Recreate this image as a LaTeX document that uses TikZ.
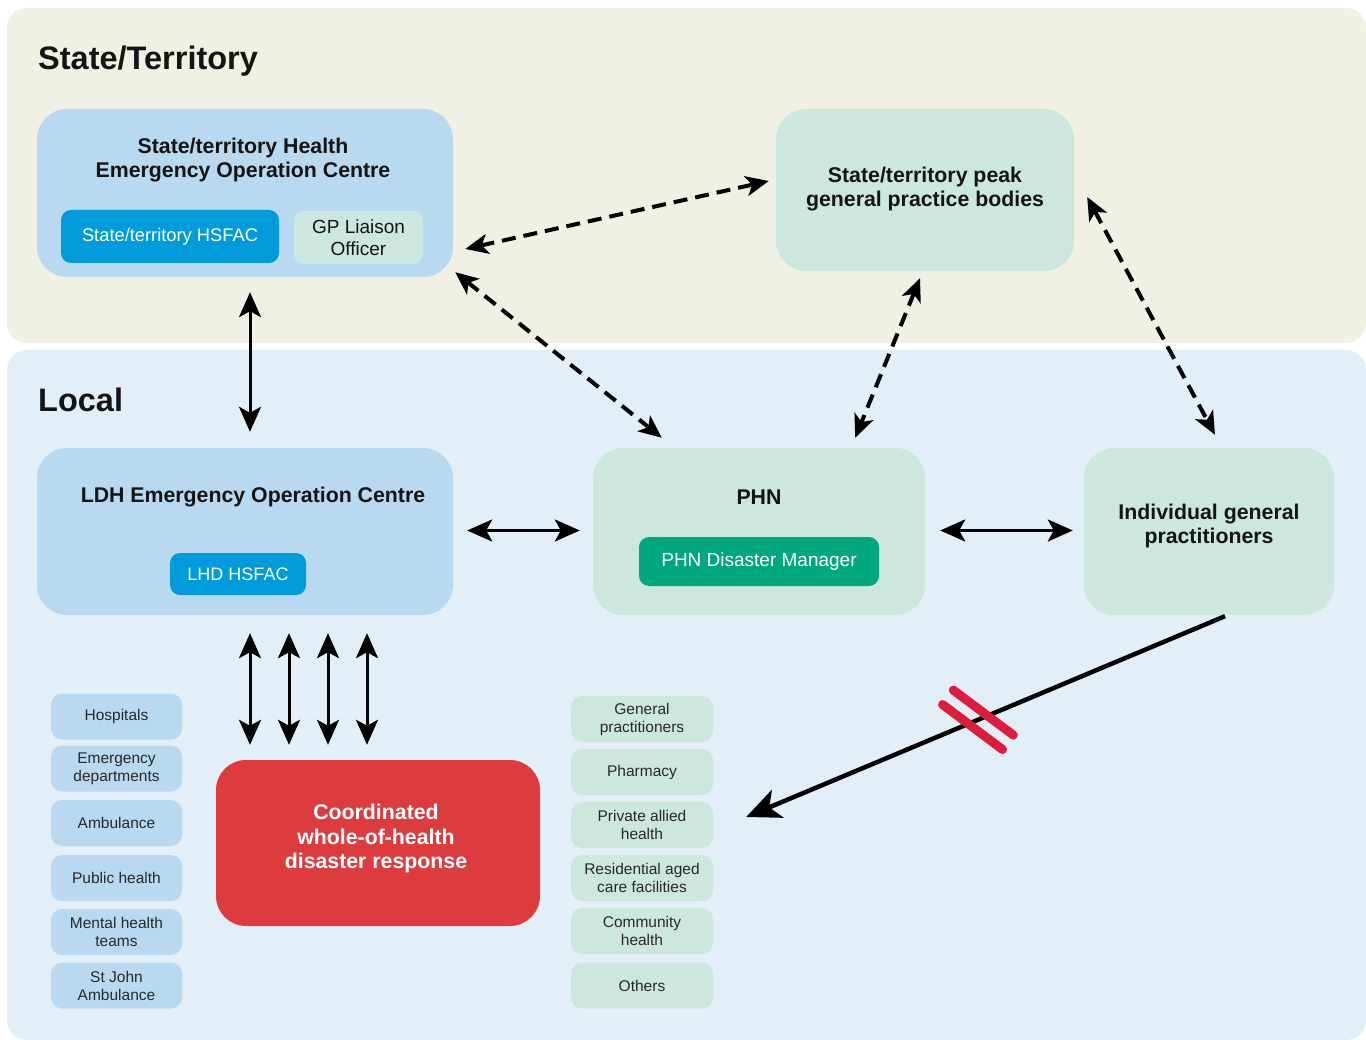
\documentclass[tikz,border=0pt]{standalone}
\usepackage{fontspec}
\setmainfont{Liberation Sans}
\usetikzlibrary{arrows.meta,calc}
\definecolor{bandtop}{RGB}{240,240,228}
\definecolor{bandlow}{RGB}{226,239,247}
\definecolor{lblue}{RGB}{185,217,240}
\definecolor{mint}{RGB}{204,232,222}
\definecolor{hsfac}{RGB}{0,155,219}
\definecolor{phnd}{RGB}{0,168,126}
\definecolor{redbox}{RGB}{221,60,63}
\definecolor{cutred}{RGB}{220,30,60}
\definecolor{txt}{RGB}{20,20,20}
\definecolor{smalltxt}{RGB}{40,40,40}
\begin{document}
\begin{tikzpicture}[x=1pt,y=-1pt,
  bigbox/.style={rounded corners=30pt, inner sep=0pt, draw=none},
  subbox/.style={rounded corners=10pt, inner sep=0pt, draw=none, align=center},
  smallbox/.style={rounded corners=11pt, inner sep=0pt, draw=none, align=center,
    minimum height=46pt, text=smalltxt, font=\fontsize{15.5}{18}\selectfont},
  leftbox/.style={smallbox, fill=lblue, minimum width=131pt},
  rightbox/.style={smallbox, fill=mint, minimum width=142pt},
  title/.style={align=center, text=txt, font=\fontsize{21.3}{24.5}\selectfont\bfseries, inner sep=0pt},
  bandtitle/.style={anchor=base west, text=txt, font=\fontsize{32.5}{36}\selectfont\bfseries, inner sep=0pt},
  solidarrow/.style={{Stealth[length=25pt,width=22pt,inset=6pt]}-{Stealth[length=25pt,width=22pt,inset=6pt]}, line width=3pt, black},
  dasharrow/.style={{Stealth[length=23pt,width=20pt,inset=6pt]}-{Stealth[length=23pt,width=20pt,inset=6pt]}, line width=4pt, black, dash pattern=on 14pt off 8pt},
]
\useasboundingbox (0,0) rectangle (1366,1040);
% bands
\fill[bandtop, rounded corners=20pt] (7,8) rectangle (1366,343);
\fill[bandlow, rounded corners=20pt] (7,350) rectangle (1366,1040);
\node[bandtitle] (tstate) at (38,70) {State/Territory};
\node[bandtitle] (tlocal) at (38,412) {Local};

% state/territory HEOC
\node[bigbox, fill=lblue, minimum width=416pt, minimum height=168pt] (heoc) at (245,193) {};
\node[title] (heoct) at (243,160) {State/territory Health\\Emergency Operation Centre};
\node[subbox, fill=hsfac, minimum width=218pt, minimum height=53pt, text=white,
  font=\fontsize{18.3}{20}\selectfont] (shsfac) at (170,236.5) {State/territory HSFAC};
\node[subbox, fill=mint, minimum width=129pt, minimum height=53pt, text=txt,
  font=\fontsize{19}{21.5}\selectfont] (gplo) at (358.5,237.5) {GP Liaison\\Officer};

% peak bodies
\node[bigbox, fill=mint, minimum width=298pt, minimum height=162pt] (peak) at (925,190) {};
\node[title] (peakt) at (925,189) {State/territory peak\\general practice bodies};

% LDH EOC
\node[bigbox, fill=lblue, minimum width=416pt, minimum height=167pt] (ldh) at (245,531.5) {};
\node[title] (ldht) at (253,497) {LDH Emergency Operation Centre};
\node[subbox, fill=hsfac, minimum width=136pt, minimum height=42pt, text=white,
  font=\fontsize{18}{20}\selectfont] (lhsfac) at (238,574) {LHD HSFAC};

% PHN
\node[bigbox, fill=mint, minimum width=332pt, minimum height=167pt] (phn) at (759,531.5) {};
\node[title] (phnt) at (759,497) {PHN};
\node[subbox, fill=phnd, minimum width=240pt, minimum height=49pt, text=white,
  font=\fontsize{19}{20}\selectfont] (phndm) at (759,561.5) {PHN Disaster Manager};

% Individual GPs
\node[bigbox, fill=mint, minimum width=250pt, minimum height=167pt] (igp) at (1209,531.5) {};
\node[title] (igpt) at (1209,526) {Individual general\\practitioners};

% red box
\node[bigbox, fill=redbox, minimum width=324pt, minimum height=166pt] (red) at (378,843) {};
\node[title, text=white] (redt) at (376,838.5) {Coordinated\\whole-of-health\\disaster response};

% left boxes
\node[leftbox] (hosp) at (116.5,716.5) {Hospitals};
\node[leftbox] (ed) at (116.5,768.5) {Emergency\\departments};
\node[leftbox] (amb) at (116.5,823) {Ambulance};
\node[leftbox] (pubh) at (116.5,878) {Public health};
\node[leftbox] (mht) at (116.5,932) {Mental health\\teams};
\node[leftbox] (sja) at (116.5,985.5) {St John\\Ambulance};

% right boxes
\node[rightbox] (gps) at (642,719) {General\\practitioners};
\node[rightbox] (pharm) at (642,772) {Pharmacy};
\node[rightbox] (pah) at (642,825) {Private allied\\health};
\node[rightbox] (racf) at (642,878) {Residential aged\\care facilities};
\node[rightbox] (comh) at (642,931) {Community\\health};
\node[rightbox] (oth) at (642,985.5) {Others};

% solid arrows
\draw[solidarrow] ($(heoc.south)+(5,15)$) -- ($(ldh.north)+(5,-16)$);
\draw[solidarrow] ($(ldh.east)+(14,-1)$) -- ($(phn.west)+(-13,-1)$);
\draw[solidarrow] ($(phn.east)+(15,-1)$) -- ($(igp.west)+(-11,-1)$);
\draw[solidarrow] ($(ldh.south)+(5,18)$) -- ($(red.north)+(-128,-15)$);
\draw[solidarrow] ($(ldh.south)+(44,18)$) -- ($(red.north)+(-89,-15)$);
\draw[solidarrow] ($(ldh.south)+(83,18)$) -- ($(red.north)+(-50,-15)$);
\draw[solidarrow] ($(ldh.south)+(122,18)$) -- ($(red.north)+(-11,-15)$);

% dashed arrows
\draw[dasharrow] ($(heoc.east)+(12,56)$) -- ($(peak.west)+(-7,-9)$);
\draw[dasharrow] ($(heoc.south east)+(2,-5)$) -- ($(phn.north west)+(69,-10)$);
\draw[dasharrow] ($(peak.south)+(-5,7)$) -- ($(phn.north east)+(-70,-10)$);
\draw[dasharrow] ($(peak.east)+(13,7)$) -- ($(igp.north)+(6,-13)$);

% broken link
\draw[line width=4.5pt, -{Stealth[length=34pt,width=30pt,inset=9pt]}]
  ($(igp.south)+(16,1)$) -- ($(pah.east)+(33,-8)$) coordinate[pos=0.516] (cut);
\draw[cutred, line width=9pt, line cap=round] ($(cut)+(5.4,-7.2)+(-30,-22.5)$) -- ($(cut)+(5.4,-7.2)+(30,22.5)$);
\draw[cutred, line width=9pt, line cap=round] ($(cut)+(-5.4,7.2)+(-30,-22.5)$) -- ($(cut)+(-5.4,7.2)+(30,22.5)$);
\end{tikzpicture}
\end{document}
